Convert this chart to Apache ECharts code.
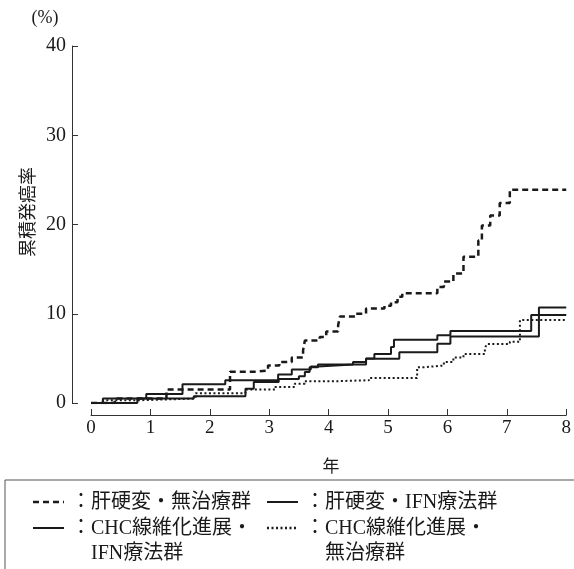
<!DOCTYPE html>
<html>
<head>
<meta charset="utf-8">
<script src="https://cdn.jsdelivr.net/npm/echarts@6/dist/echarts.min.js"></script>
<style>
  html, body { margin: 0; padding: 0; background: #fff; }
  #chart { width: 574px; height: 569px; }
</style>
</head>
<body>
<div id="chart"></div>
<script>
// years / cumulative incidence (%), step after each event
const cirrNoTxYears = [0, 0.4, 1.27, 2.34, 2.75, 2.98, 3.17, 3.38, 3.57, 3.6, 3.85, 3.96, 4.16, 4.19, 4.46, 4.63, 4.94, 5.05, 5.16, 5.24, 5.83, 5.94, 6.1, 6.27, 6.52, 6.58, 6.72, 6.88, 7.05, 8]
const cirrNoTxRate = [0, 0.5, 1.5, 3.5, 3.65, 4.2, 4.6, 5.1, 5.9, 7.0, 7.4, 8.0, 8.7, 9.7, 10.0, 10.6, 10.9, 11.3, 11.9, 12.3, 13.0, 13.6, 14.5, 16.4, 18.2, 19.9, 21.0, 22.4, 23.9, 23.9]

const cirrIfnYears = [0, 0.78, 1.73, 2.6, 2.74, 3.16, 3.5, 3.6, 3.68, 3.82, 4.63, 5.19, 5.83, 6.05, 7.54, 8]
const cirrIfnRate = [0, 0.5, 0.75, 1.6, 2.34, 2.7, 3.0, 3.46, 4.0, 4.32, 4.95, 5.7, 6.64, 7.46, 10.7, 10.7]

const chcIfnYears = [0, 0.2, 0.93, 1.54, 2.26, 3.15, 3.38, 3.7, 3.82, 4.41, 4.63, 4.77, 5.05, 5.1, 5.83, 6.05, 7.41, 8]
const chcIfnRate = [0, 0.5, 1.0, 2.1, 2.55, 3.2, 3.76, 4.1, 4.32, 4.58, 5.0, 5.5, 6.27, 7.1, 7.6, 8.06, 9.85, 9.85]

const chcNoTxYears = [0, 0.2, 0.78, 1.76, 2.6, 3.1, 3.43, 3.6, 4.16, 4.68, 5.49, 5.6, 5.94, 6.1, 6.27, 6.63, 6.66, 7.05, 7.22, 8]
const chcNoTxRate = [0, 0.3, 0.5, 1.1, 1.5, 1.8, 2.15, 2.45, 2.55, 2.8, 4.0, 4.2, 4.6, 5.1, 5.5, 6.1, 6.6, 6.85, 9.3, 9.3]

const xTicks = [0, 1, 2, 3, 4, 5, 6, 7, 8]
const yTicks = [0, 10, 20, 30, 40]

const legendRows = [
  {text: '：肝硬変・無治療群', dash: [6, 4], x: 33, y: 502},
  {text: '：肝硬変・IFN療法群', dash: null, x: 267, y: 502},
  {text: '：CHC線維化進展・\n　IFN療法群', dash: null, x: 33, y: 528},
  {text: '：CHC線維化進展・\n　無治療群', dash: [2, 2.5], x: 267, y: 528}
]

const ink = '#1a1a1a'
const serif = 'Liberation Serif, Noto Sans CJK JP'

function pairs(xs, ys) {
  return xs.map((x, i) => [x, ys[i]])
}

function stepSeries(name, xs, ys, type, width) {
  return {
    name: name,
    type: 'line',
    step: 'end',
    showSymbol: false,
    silent: true,
    data: pairs(xs, ys),
    lineStyle: {color: ink, width: width, type: type}
  }
}

const legendGraphics = []
legendRows.forEach(r => {
  legendGraphics.push({
    type: 'line',
    shape: {x1: r.x, y1: r.y, x2: r.x + 31, y2: r.y},
    style: {stroke: ink, lineWidth: r.dash ? 2.5 : 2, lineDash: r.dash || null}
  })
  legendGraphics.push({
    type: 'text',
    x: r.x + 38,
    y: r.y - 12,
    style: {text: r.text, font: '20px ' + serif, fill: ink, lineHeight: 25}
  })
})

const chart = echarts.init(document.getElementById('chart'))
chart.setOption({
  backgroundColor: '#fff',
  animation: false,
  grid: {left: 91, right: 4, top: 46, bottom: 166},
  xAxis: {
    type: 'value',
    min: xTicks[0],
    max: xTicks[xTicks.length - 1],
    interval: 1,
    offset: 12,
    splitLine: {show: false},
    axisLine: {onZero: false, lineStyle: {color: '#333', width: 1}},
    axisTick: {inside: true, length: 6, lineStyle: {color: '#333'}},
    axisLabel: {color: ink, fontFamily: serif, fontSize: 19, margin: 4}
  },
  yAxis: {
    type: 'value',
    min: yTicks[0],
    max: yTicks[yTicks.length - 1],
    interval: 10,
    offset: 19,
    splitLine: {show: false},
    axisLine: {show: true, onZero: false, lineStyle: {color: '#333', width: 1}},
    axisTick: {show: true, inside: true, length: 6, lineStyle: {color: '#333'}},
    axisLabel: {color: ink, fontFamily: serif, fontSize: 20, margin: 6}
  },
  series: [
    stepSeries('肝硬変・無治療群', cirrNoTxYears, cirrNoTxRate, [6, 4], 2.5),
    stepSeries('肝硬変・IFN療法群', cirrIfnYears, cirrIfnRate, 'solid', 2),
    stepSeries('CHC線維化進展・IFN療法群', chcIfnYears, chcIfnRate, 'solid', 2),
    stepSeries('CHC線維化進展・無治療群', chcNoTxYears, chcNoTxRate, [2, 2.5], 2)
  ],
  graphic: [
    {
      type: 'text', x: 45, y: 18,
      style: {text: '(%)', font: '18px ' + serif, fill: ink, align: 'center', verticalAlign: 'middle'}
    },
    {
      type: 'text', x: 27, y: 212, rotation: Math.PI / 2,
      style: {text: '累積発癌率', font: '18px Noto Sans CJK JP', fill: ink, align: 'center', verticalAlign: 'middle'}
    },
    {
      type: 'text', x: 331, y: 466,
      style: {text: '年', font: '17px Noto Sans CJK JP', fill: ink, align: 'center', verticalAlign: 'middle'}
    },
    {
      type: 'rect',
      shape: {x: 5, y: 480, width: 600, height: 120},
      style: {fill: 'none', stroke: '#555', lineWidth: 1}
    }
  ].concat(legendGraphics)
})
</script>
</body>
</html>
